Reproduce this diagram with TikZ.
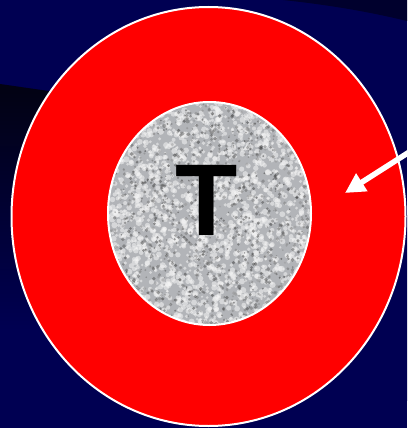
\documentclass[tikz,border=0pt]{standalone}
\usepackage{fontspec}
\setmainfont{Liberation Sans}
\usetikzlibrary{shapes.geometric,arrows.meta}
\definecolor{navy}{RGB}{0,0,82}
\definecolor{darknavy}{RGB}{0,0,45}
\definecolor{blackband}{RGB}{2,2,18}
\definecolor{ringred}{RGB}{255,0,0}
\definecolor{coregray}{RGB}{178,180,184}
\tikzset{
  ring/.style={ellipse, draw=white, line width=2pt, fill=ringred, inner sep=0pt,
    minimum width=394pt, minimum height=419pt},
  core/.style={ellipse, draw=white, line width=2pt, fill=coregray, inner sep=0pt,
    minimum width=203pt, minimum height=223pt},
  bigletter/.style={font=\bfseries\fontsize{102}{102}\selectfont, text=black, inner sep=0pt},
  pointer/.style={draw=white, line width=5.5pt, -{Triangle[length=20pt,width=20pt]}}
}
\begin{document}
\begin{tikzpicture}[x=1pt,y=-1pt]
\useasboundingbox (0,0) rectangle (407,428);
% background
\fill[navy] (0,0) rectangle (407,428);
\fill[darknavy] (283,0) .. controls (330,5) and (370,12) .. (407,21) -- (407,0) -- cycle;
\shade[top color=blackband, bottom color=navy] (0,84) -- (90,97) -- (90,330) -- (0,330) -- cycle;
\shade[top color=navy, middle color=darknavy!70!navy, bottom color=navy] (370,215) rectangle (407,400);
% target
\node[ring] (ring) at (208.5,216.5) {};
\node[core, path picture={
    \pgfmathsetseed{7}
    \foreach \i in {1,...,2200}{
      \pgfmathsetmacro{\px}{-105+210*rnd}
      \pgfmathsetmacro{\py}{-115+230*rnd}
      \pgfmathsetmacro{\pr}{1.2+2.0*rnd}
      \fill[white!92!gray, opacity=0.55] (\px pt,\py pt) circle[radius=\pr pt];
    }
    \foreach \i in {1,...,1500}{
      \pgfmathsetmacro{\px}{-105+210*rnd}
      \pgfmathsetmacro{\py}{-115+230*rnd}
      \pgfmathsetmacro{\pr}{0.7+1.3*rnd}
      \pgfmathsetmacro{\pg}{40+45*rnd}
      \fill[black!\pg, opacity=0.45] (\px pt,\py pt) circle[radius=\pr pt];
    }
  }] (core) at (209.5,213.5) {};
\node[bigletter] (label) at (207,200.5) {T};
% arrow
\coordinate (tail) at (414,149);
\coordinate (tip) at (345,193);
\draw[pointer] (tail) -- (tip);
\end{tikzpicture}
\end{document}
